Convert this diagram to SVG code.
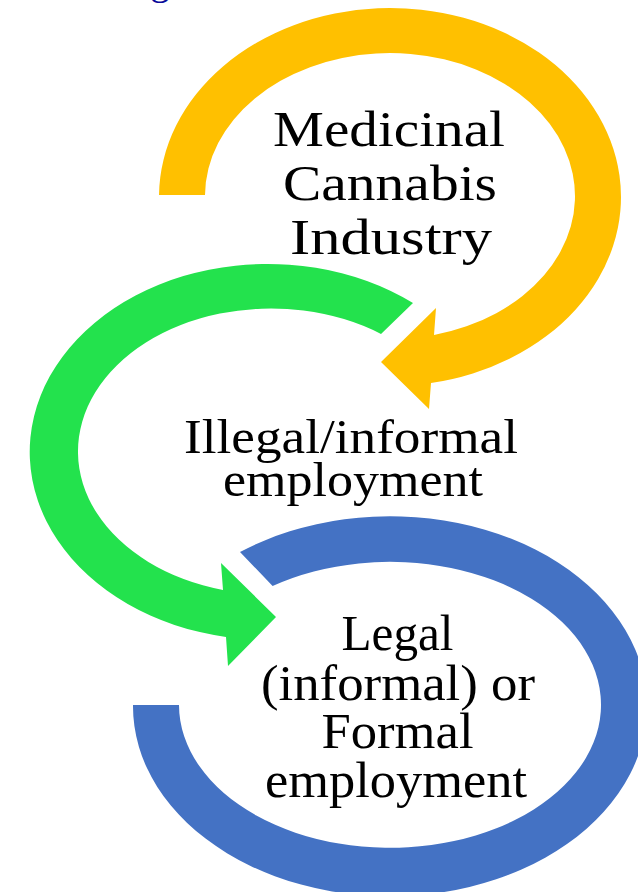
<svg xmlns="http://www.w3.org/2000/svg" width="638" height="892" viewBox="0 0 638 892">
  <style>
    .lbl { font-family: "Liberation Serif", "Times New Roman", serif; fill: #000; text-anchor: middle; }
    .big { font-size: 51px; }
    .mid { font-size: 49px; }
    .yellow { fill: #FFC000; }
    .green { fill: #23E24D; }
    .blue { fill: #4472C4; }
    .frag { font-family: "Liberation Serif", serif; font-size: 40px; fill: #0A0A9A; }
  </style>
  <rect width="638" height="892" fill="#FFFFFF"/>

  <!-- descender of a heading above the frame -->
  <text class="frag" x="150" y="-6">g</text>

  <!-- stage 1: yellow circular arrow -->
  <g id="node-medicinal-cannabis">
    <path class="yellow" d="M159,195 A231,189 0 1 1 431,383 L429,409 L381,362 L436,308 L434,335 A185,143 0 1 0 205,195 Z"/>
    <text class="lbl big" x="389" y="146" textLength="232" lengthAdjust="spacingAndGlyphs">Medicinal</text>
    <text class="lbl big" x="390" y="200" textLength="214" lengthAdjust="spacingAndGlyphs">Cannabis</text>
    <text class="lbl big" x="391" y="254" textLength="202" lengthAdjust="spacingAndGlyphs">Industry</text>
  </g>

  <!-- stage 2: green circular arrow -->
  <g id="node-illegal-informal">
    <path class="green" d="M413,303 A238,188 0 1 0 226,637 L228,666 L276,617 L221,563 L223,590 A193,143 0 1 1 381,334 Z"/>
    <text class="lbl mid" x="351" y="453" textLength="334" lengthAdjust="spacingAndGlyphs">Illegal/informal</text>
    <text class="lbl mid" x="353" y="496" textLength="260" lengthAdjust="spacingAndGlyphs">employment</text>
  </g>

  <!-- stage 3: blue circular arrow -->
  <g id="node-legal-formal">
    <path class="blue" d="M133,705 A257,190 0 1 0 240,552 L272.6,586 A211,143 0 1 1 179,705 Z"/>
    <text class="lbl big" x="397.5" y="650" textLength="112" lengthAdjust="spacingAndGlyphs">Legal</text>
    <text class="lbl big" x="398" y="700" textLength="274" lengthAdjust="spacingAndGlyphs">(informal) or</text>
    <text class="lbl big" x="397.5" y="748" textLength="152" lengthAdjust="spacingAndGlyphs">Formal</text>
    <text class="lbl big" x="396" y="797" textLength="262" lengthAdjust="spacingAndGlyphs">employment</text>
  </g>

  <g id="connectors"/>
</svg>
